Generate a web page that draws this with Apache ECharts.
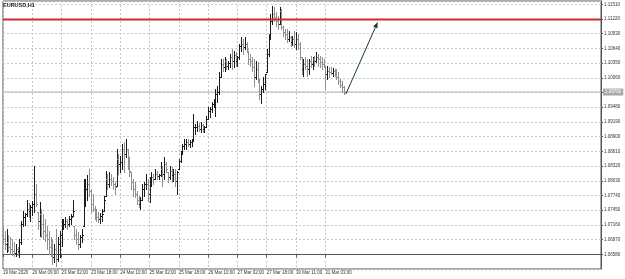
<!DOCTYPE html>
<html>
<head>
<meta charset="utf-8">
<script src="https://cdn.jsdelivr.net/npm/echarts@6/dist/echarts.min.js"></script>
<style>
  html, body { margin: 0; padding: 0; background: #fff; }
  #chart { width: 625px; height: 279px; }
</style>
</head>
<body>
<div id="chart"></div>
<script>
// EURUSD H1 bars, 19 Mar 2020 17:00 .. 31 Mar 2020 13:00
var opens = [
  1.0697, 1.0688, 1.0678, 1.0682, 1.0672, 1.0668, 1.0664, 1.0660, 1.0668, 1.0664,
  1.0682, 1.0717, 1.0731, 1.0737, 1.0747, 1.0743, 1.0751, 1.0757, 1.0776, 1.0741,
  1.0723, 1.0737, 1.0717, 1.0703, 1.0697, 1.0688, 1.0672, 1.0664, 1.0652, 1.0668,
  1.0648, 1.0678, 1.0697, 1.0717, 1.0717, 1.0723, 1.0717, 1.0727, 1.0733, 1.0713,
  1.0697, 1.0688, 1.0678, 1.0692, 1.0713, 1.0776, 1.0786, 1.0796, 1.0782, 1.0757,
  1.0747, 1.0737, 1.0731, 1.0727, 1.0733, 1.0743, 1.0772, 1.0806, 1.0796, 1.0806,
  1.0802, 1.0796, 1.0792, 1.0845, 1.0836, 1.0840, 1.0865, 1.0855, 1.0865, 1.0836,
  1.0820, 1.0800, 1.0786, 1.0776, 1.0766, 1.0757, 1.0766, 1.0786, 1.0796, 1.0796,
  1.0776, 1.0806, 1.0810, 1.0806, 1.0816, 1.0812, 1.0814, 1.0826, 1.0816, 1.0836,
  1.0820, 1.0810, 1.0822, 1.0814, 1.0816, 1.0802, 1.0826, 1.0841, 1.0855, 1.0871,
  1.0875, 1.0879, 1.0875, 1.0879, 1.0881, 1.0909, 1.0909, 1.0911, 1.0905, 1.0912,
  1.0905, 1.0909, 1.0924, 1.0940, 1.0944, 1.0954, 1.0956, 1.0974, 1.0979, 1.1007,
  1.1033, 1.1027, 1.1039, 1.1029, 1.1035, 1.1047, 1.1039, 1.1051, 1.1039, 1.1047,
  1.1068, 1.1072, 1.1066, 1.1072, 1.1058, 1.1043, 1.1039, 1.1027, 1.1007, 1.1023,
  1.1003, 1.0974, 1.0983, 1.0993, 1.1017, 1.1052, 1.1082, 1.1118, 1.1131, 1.1125,
  1.1118, 1.1112, 1.1137, 1.1106, 1.1096, 1.1092, 1.1082, 1.1086, 1.1076, 1.1082,
  1.1072, 1.1082, 1.1072, 1.1047, 1.1023, 1.1033, 1.1029, 1.1023, 1.1039, 1.1033,
  1.1043, 1.1039, 1.1047, 1.1043, 1.1037, 1.1033, 1.1029, 1.1013, 1.1019, 1.1017,
  1.1015, 1.1019, 1.1013, 1.1007, 1.0999, 1.0991, 1.0987
]
var highs = [
  1.0713, 1.0703, 1.0707, 1.0697, 1.0692, 1.0688, 1.0682, 1.0678, 1.0672, 1.0688,
  1.0723, 1.0743, 1.0739, 1.0766, 1.0759, 1.0755, 1.0763, 1.0832, 1.0796, 1.0741,
  1.0761, 1.0747, 1.0737, 1.0727, 1.0713, 1.0703, 1.0692, 1.0688, 1.0678, 1.0707,
  1.0692, 1.0703, 1.0727, 1.0727, 1.0731, 1.0727, 1.0733, 1.0737, 1.0766, 1.0713,
  1.0707, 1.0701, 1.0697, 1.0707, 1.0806, 1.0806, 1.0814, 1.0826, 1.0786, 1.0776,
  1.0753, 1.0747, 1.0741, 1.0739, 1.0747, 1.0772, 1.0822, 1.0816, 1.0820, 1.0816,
  1.0810, 1.0800, 1.0865, 1.0855, 1.0851, 1.0875, 1.0879, 1.0885, 1.0865, 1.0849,
  1.0820, 1.0806, 1.0800, 1.0782, 1.0772, 1.0770, 1.0796, 1.0800, 1.0816, 1.0806,
  1.0810, 1.0820, 1.0816, 1.0826, 1.0822, 1.0816, 1.0840, 1.0832, 1.0849, 1.0840,
  1.0820, 1.0832, 1.0830, 1.0826, 1.0826, 1.0822, 1.0845, 1.0861, 1.0875, 1.0885,
  1.0885, 1.0885, 1.0883, 1.0885, 1.0934, 1.0914, 1.0920, 1.0916, 1.0918, 1.0914,
  1.0911, 1.0930, 1.0948, 1.0948, 1.0958, 1.0964, 1.0983, 1.0989, 1.1017, 1.1043,
  1.1043, 1.1047, 1.1043, 1.1039, 1.1052, 1.1062, 1.1058, 1.1056, 1.1049, 1.1072,
  1.1086, 1.1082, 1.1086, 1.1076, 1.1058, 1.1052, 1.1047, 1.1043, 1.1039, 1.1037,
  1.1003, 1.0989, 1.1007, 1.1013, 1.1062, 1.1092, 1.1131, 1.1147, 1.1145, 1.1135,
  1.1127, 1.1145, 1.1141, 1.1108, 1.1102, 1.1102, 1.1098, 1.1088, 1.1088, 1.1098,
  1.1096, 1.1092, 1.1076, 1.1047, 1.1043, 1.1047, 1.1043, 1.1043, 1.1049, 1.1047,
  1.1049, 1.1056, 1.1052, 1.1049, 1.1047, 1.1043, 1.1029, 1.1029, 1.1027, 1.1027,
  1.1025, 1.1023, 1.1023, 1.1017, 1.1003, 1.0999, 1.0989
]
var lows = [
  1.0678, 1.0668, 1.0662, 1.0664, 1.0658, 1.0656, 1.0654, 1.0654, 1.0656, 1.0652,
  1.0678, 1.0713, 1.0715, 1.0733, 1.0731, 1.0723, 1.0735, 1.0741, 1.0753, 1.0707,
  1.0694, 1.0692, 1.0688, 1.0684, 1.0668, 1.0658, 1.0654, 1.0638, 1.0642, 1.0634,
  1.0644, 1.0652, 1.0674, 1.0707, 1.0711, 1.0707, 1.0713, 1.0717, 1.0733, 1.0688,
  1.0678, 1.0668, 1.0672, 1.0682, 1.0713, 1.0753, 1.0766, 1.0772, 1.0741, 1.0743,
  1.0727, 1.0723, 1.0721, 1.0719, 1.0723, 1.0743, 1.0772, 1.0786, 1.0790, 1.0794,
  1.0786, 1.0776, 1.0792, 1.0816, 1.0820, 1.0826, 1.0820, 1.0849, 1.0826, 1.0812,
  1.0786, 1.0772, 1.0770, 1.0757, 1.0751, 1.0747, 1.0766, 1.0772, 1.0786, 1.0763,
  1.0761, 1.0792, 1.0796, 1.0806, 1.0806, 1.0806, 1.0812, 1.0792, 1.0806, 1.0820,
  1.0800, 1.0806, 1.0800, 1.0802, 1.0792, 1.0776, 1.0826, 1.0840, 1.0855, 1.0865,
  1.0865, 1.0871, 1.0869, 1.0871, 1.0881, 1.0895, 1.0901, 1.0901, 1.0899, 1.0899,
  1.0899, 1.0909, 1.0924, 1.0928, 1.0938, 1.0948, 1.0930, 1.0958, 1.0974, 1.1007,
  1.1019, 1.1019, 1.1023, 1.1023, 1.1027, 1.1023, 1.1027, 1.1029, 1.1029, 1.1043,
  1.1058, 1.1052, 1.1062, 1.1056, 1.1033, 1.1029, 1.1019, 1.0989, 1.1003, 1.0997,
  1.0964, 1.0956, 1.0979, 1.0983, 1.1017, 1.1049, 1.1082, 1.1112, 1.1118, 1.1108,
  1.1102, 1.1112, 1.1102, 1.1088, 1.1082, 1.1076, 1.1078, 1.1068, 1.1070, 1.1066,
  1.1062, 1.1062, 1.1043, 1.1013, 1.1009, 1.1023, 1.1009, 1.1013, 1.1027, 1.1023,
  1.1029, 1.1037, 1.1029, 1.1027, 1.1023, 1.1027, 1.0983, 1.1003, 1.1007, 1.1013,
  1.1009, 1.1009, 1.1003, 1.0993, 1.0987, 1.0979, 1.0974
]
var closes = [
  1.0688, 1.0678, 1.0682, 1.0672, 1.0668, 1.0664, 1.0660, 1.0668, 1.0664, 1.0682,
  1.0717, 1.0731, 1.0737, 1.0747, 1.0743, 1.0751, 1.0757, 1.0776, 1.0757, 1.0723,
  1.0737, 1.0717, 1.0703, 1.0697, 1.0688, 1.0672, 1.0664, 1.0652, 1.0668, 1.0648,
  1.0678, 1.0697, 1.0717, 1.0717, 1.0723, 1.0717, 1.0727, 1.0731, 1.0743, 1.0697,
  1.0688, 1.0678, 1.0692, 1.0697, 1.0776, 1.0786, 1.0796, 1.0782, 1.0757, 1.0747,
  1.0737, 1.0731, 1.0727, 1.0733, 1.0737, 1.0766, 1.0806, 1.0796, 1.0806, 1.0802,
  1.0796, 1.0790, 1.0845, 1.0836, 1.0840, 1.0865, 1.0855, 1.0865, 1.0836, 1.0822,
  1.0800, 1.0786, 1.0776, 1.0766, 1.0757, 1.0766, 1.0786, 1.0796, 1.0796, 1.0776,
  1.0806, 1.0810, 1.0806, 1.0816, 1.0812, 1.0814, 1.0826, 1.0816, 1.0836, 1.0826,
  1.0810, 1.0822, 1.0814, 1.0816, 1.0802, 1.0820, 1.0841, 1.0855, 1.0871, 1.0875,
  1.0879, 1.0875, 1.0879, 1.0881, 1.0909, 1.0909, 1.0911, 1.0905, 1.0912, 1.0905,
  1.0909, 1.0924, 1.0940, 1.0944, 1.0954, 1.0956, 1.0974, 1.0979, 1.1007, 1.1033,
  1.1027, 1.1039, 1.1029, 1.1035, 1.1047, 1.1039, 1.1051, 1.1039, 1.1047, 1.1068,
  1.1072, 1.1066, 1.1072, 1.1062, 1.1043, 1.1039, 1.1027, 1.1007, 1.1023, 1.1003,
  1.0974, 1.0983, 1.0993, 1.1013, 1.1052, 1.1082, 1.1118, 1.1131, 1.1125, 1.1118,
  1.1112, 1.1137, 1.1106, 1.1096, 1.1092, 1.1082, 1.1086, 1.1076, 1.1082, 1.1072,
  1.1082, 1.1072, 1.1047, 1.1023, 1.1033, 1.1029, 1.1023, 1.1039, 1.1033, 1.1043,
  1.1039, 1.1047, 1.1043, 1.1037, 1.1033, 1.1029, 1.1013, 1.1019, 1.1017, 1.1015,
  1.1019, 1.1013, 1.1007, 1.0999, 1.0991, 1.0987, 1.0978
]

// time labels, one every 16 bars
var tickLabels = ['19 Mar 2020', '20 Mar 09:00', '23 Mar 02:00', '23 Mar 18:00', '24 Mar 10:00', '25 Mar 02:00',
  '25 Mar 18:00', '26 Mar 10:00', '27 Mar 02:00', '27 Mar 18:00', '30 Mar 11:00', '31 Mar 03:00']
var barsPerLabel = 16

// price scale labels: 1.06580 + k * 0.00290
var priceBase = 1.0658
var priceStep = 0.0029

var levelLine = 1.1121          // red horizontal line
var bidPrice = closes[closes.length - 1]
var arrowFrom = [187.2, 1.0974]  // [bar index, price]
var arrowTo = [204.6, 1.1116]

var upColor = '#1c1c1c'
var downColor = '#8f8f8f'
var gridColor = '#c9c9c9'
var axisColor = '#555'
var font = 'Liberation Sans, Arial, sans-serif'

var xMax = 326.5
var ohlc = opens.map(function (o, i) {
  return [i, o, highs[i], lows[i], closes[i]]
})

// the price axis spans one label step below 1.06580 and ~17.22 steps above
var stepsBelow = 1
var stepsAbove = 17.224

var chart = echarts.init(document.getElementById('chart'))

function renderBar(params, api) {
  var i = api.value(0)
  var o = api.value(1)
  var h = api.value(2)
  var l = api.value(3)
  var c = api.value(4)
  var top = api.coord([i, h])
  var bot = api.coord([i, l])
  var po = api.coord([i, o])
  var pc = api.coord([i, c])
  var x = Math.round(top[0]) + 0.5
  var yo = Math.round(po[1]) + 0.5
  var yc = Math.round(pc[1]) + 0.5
  var style = { stroke: c >= o ? upColor : downColor, lineWidth: 1 }
  return {
    type: 'group',
    children: [
      { type: 'line', shape: { x1: x, y1: Math.round(top[1]), x2: x, y2: Math.round(bot[1]) + 1 }, style: style },
      { type: 'line', shape: { x1: x - 1.5, y1: yo, x2: x, y2: yo }, style: style },
      { type: 'line', shape: { x1: x, y1: yc, x2: x + 1.5, y2: yc }, style: style }
    ]
  }
}

function renderArrow(params, api) {
  var a = api.coord([api.value(0), api.value(1)])
  var b = api.coord([api.value(2), api.value(3)])
  var ang = Math.atan2(b[1] - a[1], b[0] - a[0])
  var len = 6, half = 2.3
  var bx = b[0] - Math.cos(ang) * len
  var by = b[1] - Math.sin(ang) * len
  var nx = -Math.sin(ang) * half
  var ny = Math.cos(ang) * half
  var color = '#183a3a'
  return {
    type: 'group',
    children: [
      { type: 'line', shape: { x1: a[0], y1: a[1], x2: bx, y2: by }, style: { stroke: color, lineWidth: 1 } },
      { type: 'polygon', shape: { points: [[b[0], b[1]], [bx + nx, by + ny], [bx - nx, by - ny]] }, style: { fill: color } }
    ]
  }
}

chart.setOption({
  animation: false,
  backgroundColor: '#fff',
  textStyle: { fontFamily: font },
  title: {
    text: 'EURUSD,H1',
    left: 3,
    top: 2,
    padding: 0,
    textStyle: { fontSize: 5.5, fontWeight: 'bold', color: '#222', fontFamily: font }
  },
  grid: {
    left: 1,
    top: 1,
    right: 24,
    bottom: 10,
    show: true,
    borderColor: axisColor,
    borderWidth: 1
  },
  xAxis: {
    type: 'value',
    min: 0,
    max: xMax,
    interval: 8,
    axisLine: { show: true, lineStyle: { color: axisColor } },
    axisTick: {
      show: true,
      length: 3,
      customValues: tickLabels.map(function (_, k) { return k * barsPerLabel }),
      lineStyle: { color: axisColor }
    },
    axisLabel: {
      customValues: tickLabels.map(function (_, k) { return k * barsPerLabel }),
      formatter: function (v) { return tickLabels[Math.round(v / barsPerLabel)] || '' },
      align: 'left',
      fontSize: 4.5,
      color: '#333',
      margin: 1
    },
    splitLine: { show: true, lineStyle: { color: gridColor, type: [2, 2], width: 1 } }
  },
  yAxis: [
    {
      type: 'value',
      min: priceBase - stepsBelow * priceStep,
      max: priceBase + stepsAbove * priceStep,
      show: false,
      splitLine: { show: false }
    },
    {
      type: 'value',
      position: 'right',
      min: -stepsBelow,
      max: stepsAbove,
      interval: 1,
      axisLine: { show: true, lineStyle: { color: axisColor } },
      axisTick: { show: true, length: 2, lineStyle: { color: axisColor } },
      axisLabel: {
        showMinLabel: false,
        showMaxLabel: false,
        fontSize: 4.5,
        color: '#333',
        margin: 3,
        formatter: function (v) {
          if (Math.abs(v - Math.round(v)) > 1e-6 || v < 0) return ''
          return (priceBase + v * priceStep).toFixed(5)
        }
      },
      splitLine: { show: true, lineStyle: { color: gridColor, type: [2, 2], width: 1 } }
    }
  ],
  series: [
    {
      // bid line with price tag on the scale
      type: 'line',
      xAxisIndex: 0,
      yAxisIndex: 0,
      data: [[0, bidPrice], [xMax, bidPrice]],
      showSymbol: false,
      silent: true,
      z: 1,
      lineStyle: { color: '#b4b4b4', width: 1 },
      endLabel: {
        show: true,
        distance: 2,
        formatter: bidPrice.toFixed(5),
        backgroundColor: '#a9a9a9',
        color: '#fff',
        fontSize: 4.5,
        padding: [1, 2, 1, 2]
      }
    },
    {
      type: 'custom',
      xAxisIndex: 0,
      yAxisIndex: 0,
      renderItem: renderBar,
      encode: { x: 0, y: [1, 2, 3, 4] },
      data: ohlc,
      z: 3
    },
    {
      // red horizontal level
      type: 'line',
      xAxisIndex: 0,
      yAxisIndex: 0,
      data: [[0, levelLine], [xMax, levelLine]],
      showSymbol: false,
      silent: true,
      z: 4,
      lineStyle: { color: '#d42a2a', width: 2 }
    },
    {
      type: 'custom',
      xAxisIndex: 0,
      yAxisIndex: 0,
      renderItem: renderArrow,
      encode: { x: [0, 2], y: [1, 3] },
      data: [[arrowFrom[0], arrowFrom[1], arrowTo[0], arrowTo[1]]],
      silent: true,
      z: 5
    }
  ]
})
</script>
</body>
</html>
